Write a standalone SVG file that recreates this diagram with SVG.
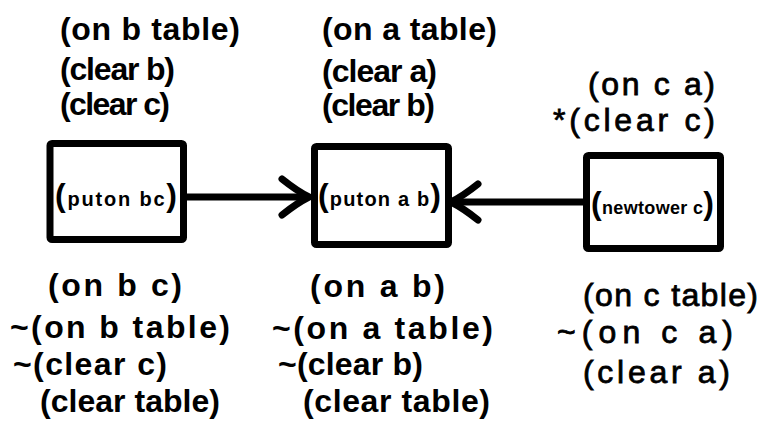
<svg xmlns="http://www.w3.org/2000/svg" width="764" height="428" viewBox="0 0 764 428">
<style>
.bg{fill:#ffffff}
.box{fill:#ffffff;stroke:#000;stroke-width:7;stroke-linejoin:round}
.edge{fill:none;stroke:#000;stroke-width:7;stroke-linecap:butt}
.head{fill:none;stroke:#000;stroke-width:7;stroke-linecap:round;stroke-linejoin:round}
.t{font-family:"Liberation Sans","DejaVu Sans",sans-serif;font-size:32px;font-weight:700;fill:#000}
.tr{font-family:"Liberation Sans","DejaVu Sans",sans-serif;font-size:32px;font-weight:400;fill:#000;stroke:#000;stroke-width:0.8}
.lbl{font-family:"Liberation Sans","DejaVu Sans",sans-serif;font-size:20px;font-weight:700;fill:#000}
.par{font-size:32px}
</style>
<defs>
<marker id="arr" markerUnits="userSpaceOnUse" markerWidth="44" markerHeight="48" viewBox="-34 -24 44 48" refX="0" refY="0" orient="auto">
<path class="head" d="M-27,-18 Q-12,-6 0,0 Q-12,6 -27,18"/>
</marker>
</defs>
<rect class="bg" x="0" y="0" width="764" height="428"/>
<g id="connectors">
<line class="edge" x1="187" y1="197" x2="309" y2="197" marker-end="url(#arr)"/>
<line class="edge" x1="583" y1="202" x2="451" y2="202" marker-end="url(#arr)"/>
</g>
<g id="node-puton-bc">
<rect class="box" x="50" y="143.5" width="133.5" height="96" rx="2"/>
<text class="lbl" x="55" y="206" textLength="122"><tspan class="par">(</tspan>puton bc<tspan class="par">)</tspan></text>
</g>
<g id="node-puton-ab">
<rect class="box" x="314.5" y="146.5" width="134" height="98" rx="2"/>
<text class="lbl" x="318" y="206" textLength="123"><tspan class="par">(</tspan>puton a b<tspan class="par">)</tspan></text>
</g>
<g id="node-newtower-c">
<rect class="box" x="586.5" y="155.5" width="134" height="93" rx="2"/>
<text class="lbl" x="591" y="214" textLength="123" style="font-size:18px"><tspan class="par">(</tspan>newtower c<tspan class="par">)</tspan></text>
</g>
<g id="pre-puton-bc">
<text class="t" x="60" y="40" textLength="180">(on b table)</text>
<text class="t" x="60" y="80" textLength="115">(clear b)</text>
<text class="t" x="60" y="115" textLength="110">(clear c)</text>
</g>
<g id="pre-puton-ab">
<text class="t" x="322" y="40" textLength="175">(on a table)</text>
<text class="t" x="322" y="82" textLength="115">(clear a)</text>
<text class="t" x="322" y="116" textLength="113">(clear b)</text>
</g>
<g id="pre-newtower-c">
<text class="tr" x="588" y="95" textLength="127">(on c a)</text>
<text class="tr" x="553" y="131" textLength="162">*(clear c)</text>
</g>
<g id="post-puton-bc">
<text class="t" x="48" y="296" textLength="134">(on b c)</text>
<text class="t" x="10" y="338" textLength="220">~(on b table)</text>
<text class="t" x="13" y="375" textLength="154">~(clear c)</text>
<text class="t" x="40" y="412" textLength="180">(clear table)</text>
</g>
<g id="post-puton-ab">
<text class="t" x="310" y="297" textLength="135">(on a b)</text>
<text class="t" x="272" y="339" textLength="221">~(on a table)</text>
<text class="t" x="278" y="375" textLength="145">~(clear b)</text>
<text class="t" x="303" y="412" textLength="187">(clear table)</text>
</g>
<g id="post-newtower-c">
<text class="tr" x="583" y="306" textLength="175">(on c table)</text>
<text class="tr" x="557" y="343" textLength="176">~(on c a)</text>
<text class="tr" x="583" y="383" textLength="147">(clear a)</text>
</g>
</svg>
